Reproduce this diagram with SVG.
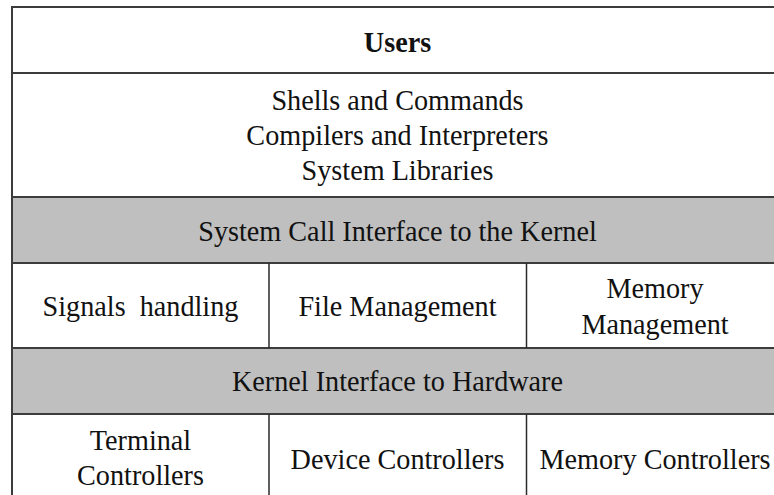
<svg xmlns="http://www.w3.org/2000/svg" width="774" height="495" viewBox="0 0 774 495">
  <style>
    .t { font-family: "Liberation Serif", "Times New Roman", serif; font-size: 30px; fill: #111; text-anchor: middle; }
    .b { font-weight: bold; }
    .cell { fill: #ffffff; stroke: #3c3c3c; stroke-width: 2; }
    .band { fill: #bfbfbf; stroke: #3c3c3c; stroke-width: 2; }
    .div { stroke: #2a2a2a; stroke-width: 1.5; }
  </style>
  <rect width="774" height="495" fill="#ffffff"/>
  <g id="users">
    <rect class="cell" x="12" y="7" width="771" height="66"/>
    <text class="t b" transform="scale(0.94 1)" x="422.87" y="52">Users</text>
  </g>
  <g id="userland">
    <rect class="cell" x="12" y="73" width="771" height="124"/>
    <g transform="scale(0.94 1)">
      <text class="t" x="422.87" y="110">Shells and Commands</text>
      <text class="t" x="422.87" y="145">Compilers and Interpreters</text>
      <text class="t" x="422.87" y="180">System Libraries</text>
    </g>
  </g>
  <g id="syscall">
    <rect class="band" x="12" y="197" width="771" height="66"/>
    <text class="t" transform="scale(0.94 1)" x="422.87" y="241">System Call Interface to the Kernel</text>
  </g>
  <g id="kernel-row">
    <rect class="cell" x="12" y="263" width="771" height="85"/>
  </g>
  <g id="signals">
    <text class="t" transform="scale(0.94 1)" x="149.47" y="316" xml:space="preserve">Signals  handling</text>
  </g>
  <g id="file-mgmt">
    <text class="t" transform="scale(0.94 1)" x="422.87" y="316">File Management</text>
  </g>
  <g id="mem-mgmt">
    <g transform="scale(0.94 1)">
      <text class="t" x="696.81" y="298">Memory</text>
      <text class="t" x="696.81" y="334">Management</text>
    </g>
  </g>
  <g id="hw-iface">
    <rect class="band" x="12" y="348" width="771" height="66"/>
    <text class="t" transform="scale(0.94 1)" x="422.87" y="391">Kernel Interface to Hardware</text>
  </g>
  <g id="hw-row">
    <path d="M12 414 V500 M783 414 V500" stroke="#3c3c3c" stroke-width="2" fill="none"/>
  </g>
  <g id="terminal">
    <g transform="scale(0.94 1)">
      <text class="t" x="149.47" y="450">Terminal</text>
      <text class="t" x="149.47" y="485">Controllers</text>
    </g>
  </g>
  <g id="device">
    <text class="t" transform="scale(0.94 1)" x="422.87" y="469">Device Controllers</text>
  </g>
  <g id="memctl">
    <text class="t" transform="scale(0.94 1)" x="696.81" y="469">Memory Controllers</text>
  </g>
  <g id="connectors">
    <line class="div" x1="269" y1="263" x2="269" y2="348"/>
    <line class="div" x1="526.5" y1="263" x2="526.5" y2="348"/>
    <line class="div" x1="269" y1="414" x2="269" y2="500"/>
    <line class="div" x1="526.5" y1="414" x2="526.5" y2="500"/>
  </g>
</svg>
